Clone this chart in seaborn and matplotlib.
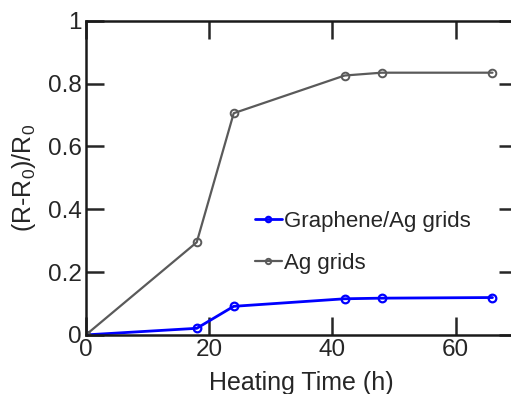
import matplotlib
matplotlib.use('Agg')
import matplotlib.pyplot as plt
import seaborn as sns
import pandas as pd

# heating time (h)
hours = [0, 18, 24, 42, 48, 66]
graphene_ag = [0.0, 0.021, 0.091, 0.115, 0.117, 0.119]
ag_only = [0.0, 0.295, 0.706, 0.826, 0.835, 0.835]

sns.set_style('ticks')
plt.rcParams['font.family'] = ['Liberation Sans', 'DejaVu Sans']
plt.rcParams['mathtext.fontset'] = 'custom'
plt.rcParams['mathtext.rm'] = 'Liberation Sans'
plt.rcParams['mathtext.it'] = 'Liberation Sans'
plt.rcParams['mathtext.default'] = 'regular'

df_g = pd.DataFrame({'t': hours, 'v': graphene_ag})
df_a = pd.DataFrame({'t': hours, 'v': ag_only})

fig = plt.figure(figsize=(5.11, 3.94), dpi=100)
ax = fig.add_axes([0.168, 0.150, 0.844, 0.797])

sns.lineplot(data=df_g, x='t', y='v', ax=ax, color='#0000ff', linewidth=2,
             marker='o', markersize=5.5, markerfacecolor='none',
             markeredgecolor='#0000ff', markeredgewidth=1.6,
             label='Graphene/Ag grids')
sns.lineplot(data=df_a, x='t', y='v', ax=ax, color='#5a5a5a', linewidth=1.6,
             marker='o', markersize=5.5, markerfacecolor='none',
             markeredgecolor='#5a5a5a', markeredgewidth=1.4,
             label='Ag grids')

ax.set_xlim(0, 70)
ax.set_ylim(0, 1)
ax.set_xticks([0, 20, 40, 60])
ax.set_yticks([0, 0.2, 0.4, 0.6, 0.8, 1])
ax.set_yticklabels(['0', '0.2', '0.4', '0.6', '0.8', '1'])
ax.tick_params(direction='in', length=13, width=1.8, labelsize=17.5,
               top=True, right=True, pad=3)
for s in ax.spines.values():
    s.set_linewidth(1.8)
    s.set_color('#1a1a1a')

ax.set_xlabel('Heating Time (h)', fontsize=18, labelpad=7)
ax.set_ylabel('(R-R$_0$)/R$_0$', fontsize=18, labelpad=7)

ax.legend(loc='upper left', bbox_to_anchor=(0.46, 0.515),
          bbox_transform=fig.transFigure, frameon=False, fontsize=16,
          handlelength=1.2, handletextpad=0.1, labelspacing=0.95,
          markerscale=0.7)

fig.savefig('out.png', dpi=100)
